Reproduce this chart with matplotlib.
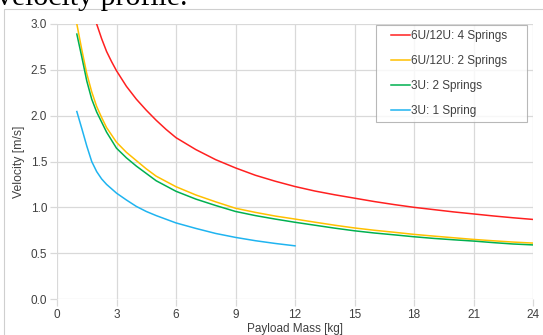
import matplotlib.pyplot as plt
from matplotlib.patches import Rectangle
from matplotlib.legend_handler import HandlerLine2D

# payload mass [kg] and velocity [m/s]
mass_red = [2, 2.25, 2.5, 2.75, 3, 3.5, 4, 4.5, 5, 5.5, 6, 7, 8, 9, 10, 11, 12, 13, 14, 15, 16, 17, 18, 19, 20,
            21, 22, 23, 24]
vel_red = [3.0, 2.84, 2.70, 2.59, 2.49, 2.32, 2.18, 2.06, 1.95, 1.85, 1.76, 1.63, 1.52, 1.43, 1.35, 1.285, 1.227,
           1.178, 1.137, 1.10, 1.063, 1.03, 1.0, 0.975, 0.95, 0.928, 0.906, 0.886, 0.868]

mass_std = [1, 1.25, 1.5, 1.75, 2, 2.25, 2.5, 3, 3.5, 4, 4.5, 5, 6, 7, 8, 9, 10, 11, 12, 13, 14, 15, 16, 17, 18,
            19, 20, 21, 22, 23, 24]
vel_yellow = [3.0, 2.72, 2.46, 2.26, 2.1, 1.98, 1.87, 1.71, 1.60, 1.51, 1.42, 1.34, 1.225, 1.135, 1.06, 0.99, 0.945,
              0.905, 0.872, 0.838, 0.805, 0.775, 0.75, 0.728, 0.705, 0.686, 0.668, 0.65, 0.635, 0.621, 0.61]
vel_green = [2.89, 2.64, 2.38, 2.18, 2.04, 1.93, 1.82, 1.645, 1.54, 1.45, 1.37, 1.29, 1.175, 1.09, 1.02, 0.955,
             0.91, 0.872, 0.837, 0.805, 0.773, 0.744, 0.72, 0.70, 0.679, 0.661, 0.646, 0.632, 0.615, 0.60, 0.59]

mass_blue = [1, 1.25, 1.5, 1.75, 2, 2.25, 2.5, 3, 3.5, 4, 4.5, 5, 6, 7, 8, 9, 10, 11, 12]
vel_blue = [2.045, 1.86, 1.67, 1.50, 1.39, 1.31, 1.25, 1.155, 1.08, 1.01, 0.955, 0.91, 0.83, 0.77, 0.715, 0.672,
            0.636, 0.606, 0.58]

labels = ['6U/12U: 4 Springs', '6U/12U: 2 Springs', '3U: 2 Springs', '3U: 1 Spring']
colors = ['#ff2020', '#ffc000', '#00b050', '#1fb4f0']
xticks = [0, 3, 6, 9, 12, 15, 18, 21, 24]
yticks = [0.0, 0.5, 1.0, 1.5, 2.0, 2.5, 3.0]

plt.rcParams['font.family'] = ['Liberation Sans', 'DejaVu Sans']

fig = plt.figure(figsize=(5.43, 3.35), dpi=100)
ax = fig.add_axes([57 / 543, 1 - 299 / 335, 476 / 543, 275 / 335])

# outer chart frame and the cut-off caption of the document above it
fig.patches.append(Rectangle((4 / 543, -0.01), 1, 1 - 9 / 335 + 0.01, transform=fig.transFigure,
                             fill=False, edgecolor='#cfcfcf', linewidth=0.8))
fig.text(-3 / 543, 1 - 5 / 335, 'velocity profile.', family='Liberation Serif', fontsize=21.5,
         va='baseline', ha='left', color='black')

ax.plot(mass_red, vel_red, color=colors[0], lw=1.1, label=labels[0])
ax.plot(mass_std, vel_yellow, color=colors[1], lw=1.1, label=labels[1])
ax.plot(mass_std, vel_green, color=colors[2], lw=1.1, label=labels[2])
ax.plot(mass_blue, vel_blue, color=colors[3], lw=1.1, label=labels[3])

ax.set_xlim(0, 24)
ax.set_ylim(0, 3.0)
ax.set_xticks(xticks)
ax.set_yticks(yticks)
ax.set_yticklabels([f'{v:.1f}' for v in yticks])
ax.grid(True, color='#d9d9d9', linewidth=0.9)
ax.set_axisbelow(True)
for s in ax.spines.values():
    s.set_visible(False)
ax.tick_params(axis='both', length=5, width=0.9, color='#d9d9d9', labelsize=8.5, labelcolor='#404040', pad=2)

ax.set_xlabel('Payload Mass [kg]', fontsize=8.5, color='#404040', labelpad=1.5)
ax.set_ylabel('Velocity [m/s]', fontsize=8.8, color='#404040', labelpad=4)

leg = ax.legend(loc='upper left', bbox_to_anchor=(0.670, 0.0, 0.317, 0.996), mode='expand', fontsize=8.5,
                frameon=True, fancybox=False, edgecolor='#a6a6a6', handlelength=2.4, handletextpad=0.1,
                labelspacing=1.08, borderpad=0.45, borderaxespad=0,
                handler_map={plt.Line2D: HandlerLine2D(xpad=0.85)})
leg.get_frame().set_linewidth(0.8)
for t in leg.get_texts():
    t.set_color('#404040')

fig.savefig('out.png', dpi=100)
